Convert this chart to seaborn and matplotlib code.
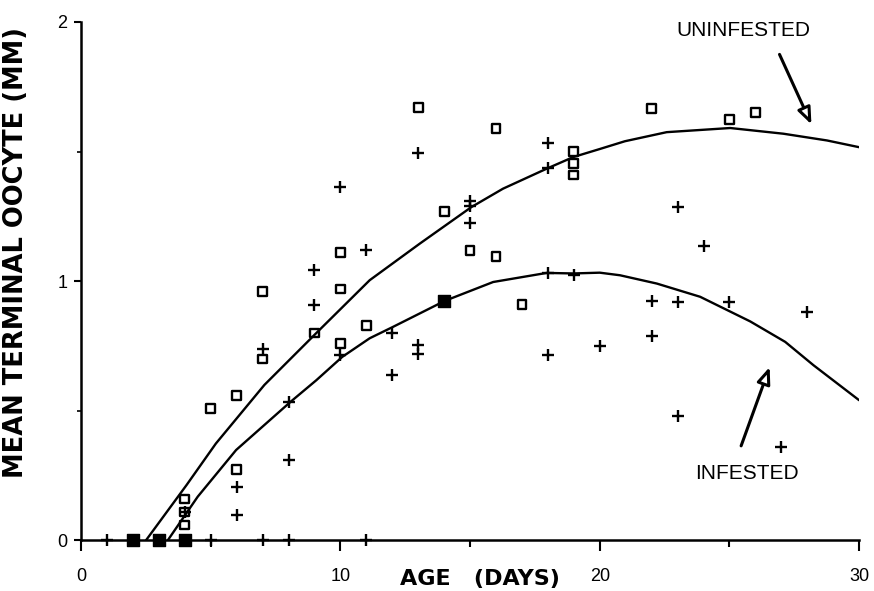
import numpy as np
import pandas as pd
import matplotlib
matplotlib.use("Agg")
import matplotlib.pyplot as plt
import seaborn as sns

# uninfested females (open squares)
unif_day = [4, 4, 4, 5, 6, 6, 7, 7, 9, 10, 10, 10, 11, 13, 14, 15, 16, 16, 17,
            19, 19, 19, 22, 25, 26]
unif_mm = [0.16, 0.11, 0.06, 0.51, 0.56, 0.275, 0.96, 0.70, 0.80, 1.11, 0.97, 0.76,
           0.83, 1.67, 1.27, 1.12, 1.59, 1.095, 0.91, 1.50, 1.455, 1.41, 1.665,
           1.625, 1.65]

# infested females (crosses)
inf_day = [1, 5, 7, 8, 11, 4, 6, 6, 7, 8, 8, 9, 9, 10, 10, 11, 12, 12, 13, 13, 13,
           15, 15, 15, 18, 18, 18, 18, 19, 20, 22, 22, 23, 23, 23, 24, 25, 27, 28]
inf_mm = [0, 0, 0, 0, 0, 0.11, 0.205, 0.10, 0.74, 0.535, 0.31, 1.045, 0.91, 1.365,
          0.715, 1.12, 0.80, 0.64, 1.495, 0.755, 0.72, 1.31, 1.29, 1.225, 1.535,
          1.435, 1.03, 0.715, 1.025, 0.75, 0.925, 0.79, 1.285, 0.92, 0.48, 1.135,
          0.92, 0.36, 0.88]

# points where both groups coincide (drawn solid)
both_day = [2, 3, 4, 14]
both_mm = [0, 0, 0, 0.925]

# fitted curves
fit_unif_day = [2.5, 4.07, 5.2, 7.07, 9.07, 11.13, 13.06, 15.05, 16.27, 17.95, 18.98,
                20.0, 20.97, 22.58, 25.03, 27.08, 28.76, 30]
fit_unif_mm = [0, 0.214, 0.374, 0.60, 0.80, 1.004, 1.145, 1.286, 1.357, 1.434, 1.479,
               1.51, 1.54, 1.575, 1.591, 1.569, 1.543, 1.517]
fit_inf_day = [3.34, 4.5, 5.98, 8.08, 9.07, 10.07, 11.13, 12.03, 14.02, 15.89, 17.95,
               18.98, 20.0, 20.78, 22.2, 23.87, 25.8, 27.15, 28.24, 30]
fit_inf_mm = [0, 0.169, 0.349, 0.535, 0.618, 0.708, 0.78, 0.824, 0.924, 0.997, 1.032,
              1.03, 1.033, 1.023, 0.991, 0.94, 0.845, 0.766, 0.676, 0.541]

sns.set_style("ticks")
plt.rcParams['font.family'] = ['Liberation Sans', 'DejaVu Sans']
for k in ['text.color', 'axes.labelcolor', 'xtick.color', 'ytick.color', 'axes.edgecolor']:
    plt.rcParams[k] = 'black'

fig = plt.figure(figsize=(8.74, 5.91), dpi=100)
ax = fig.add_axes([0.0927, 0.0855, 0.8903, 0.8773])

sns.lineplot(x=fit_unif_day, y=fit_unif_mm, color='black', lw=1.7, ax=ax, sort=False)
sns.lineplot(x=fit_inf_day, y=fit_inf_mm, color='black', lw=1.7, ax=ax, sort=False)

sns.scatterplot(x=unif_day, y=unif_mm, marker='s', s=40, facecolor='none',
                edgecolor='black', linewidth=1.7, ax=ax, clip_on=False, zorder=3)
sns.scatterplot(x=inf_day, y=inf_mm, marker='+', s=75, color='black',
                linewidth=1.7, ax=ax, clip_on=False, zorder=3)
sns.scatterplot(x=both_day, y=both_mm, marker='s', s=75, color='black',
                edgecolor='black', linewidth=1, ax=ax, clip_on=False, zorder=3)

ax.set_xlim(0, 30)
ax.set_ylim(0, 2)
sns.despine(ax=ax)
ax.spines['left'].set_linewidth(1.8)
ax.spines['bottom'].set_linewidth(1.8)

ax.set_xticks([0, 10, 20, 30])
ax.set_xticks([5, 15, 25], minor=True)
ax.set_yticks([0, 1, 2])
ax.set_yticks([0.5, 1.5], minor=True)
ax.tick_params(axis='x', which='major', direction='out', length=8, width=1.5,
               labelsize=13, pad=12)
ax.tick_params(axis='x', which='minor', direction='out', length=5, width=1.5)
ax.tick_params(axis='y', which='major', direction='out', length=5, width=1.5,
               labelsize=13, pad=5)
ax.tick_params(axis='y', which='minor', direction='out', length=3, width=1.2)

ax.set_xlabel('AGE   (DAYS)', fontsize=16, fontweight='bold', family='DejaVu Sans')
ax.xaxis.set_label_coords(0.513, -0.074)
ax.xaxis.label.set_va('center')
ax.set_ylabel('MEAN TERMINAL OOCYTE (MM)', fontsize=18.5, fontweight='bold',
              family='DejaVu Sans')
ax.yaxis.set_label_coords(-0.083, 0.556)
ax.yaxis.label.set_va('center')

arrow = dict(arrowstyle='-|>,head_length=1.0,head_width=0.4', fc='white',
             ec='black', lw=2.2, shrinkA=0, shrinkB=0)
ax.text(25.52, 1.967, 'UNINFESTED', fontsize=15, ha='center', va='center')
ax.annotate('', xy=(28.16, 1.605), xytext=(26.93, 1.875), arrowprops=arrow)
ax.text(25.69, 0.26, 'INFESTED', fontsize=15, ha='center', va='center')
ax.annotate('', xy=(26.55, 0.669), xytext=(25.45, 0.365), arrowprops=arrow)

plt.savefig('out.png', dpi=100)
